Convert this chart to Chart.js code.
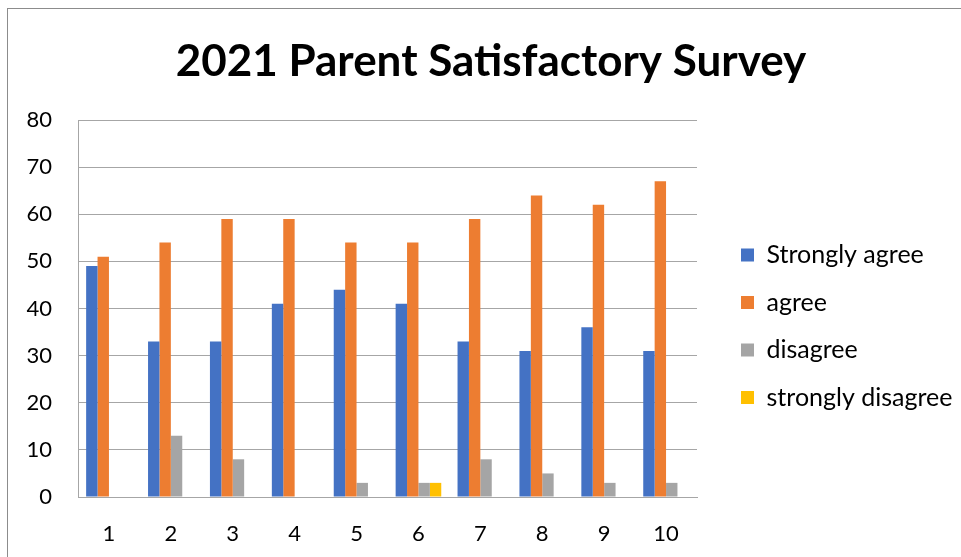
<!DOCTYPE html>
<html>
<head>
<meta charset="utf-8">
<title>2021 Parent Satisfactory Survey</title>
<script src="https://cdn.jsdelivr.net/npm/chart.js@4.4.1/dist/chart.umd.min.js"></script>
<style>
  html, body { margin: 0; padding: 0; background: #fff; overflow: hidden; }
  #frame {
    position: absolute; left: 7px; top: 8px; width: 1000px; height: 600px;
    border-left: 1px solid #8c8c8c; border-top: 1px solid #8c8c8c;
  }
  #surveyChart { position: absolute; left: 0; top: 0; }
</style>
</head>
<body>
<div id="frame"></div>
<canvas id="surveyChart" width="961" height="557"></canvas>
<script>
  // values
  const questions = ["1", "2", "3", "4", "5", "6", "7", "8", "9", "10"];
  const stronglyAgree = [49, 33, 33, 41, 44, 41, 33, 31, 36, 31];
  const agree = [51, 54, 59, 59, 54, 54, 59, 64, 62, 67];
  const disagree = [0, 13, 8, 0, 3, 3, 8, 5, 3, 3];
  const stronglyDisagree = [0, 0, 0, 0, 0, 3, 0, 0, 0, 0];
  const yTicks = [0, 10, 20, 30, 40, 50, 60, 70, 80];

  const gridColor = "#a6a6a6";
  const fontFamily = "Lato, 'Open Sans', sans-serif";

  const ctx = document.getElementById("surveyChart").getContext("2d");

  const surveyChart = new Chart(ctx, {
    type: "bar",
    data: {
      labels: questions,
      datasets: [
        { label: "Strongly agree", data: stronglyAgree, backgroundColor: "#4472C4" },
        { label: "agree", data: agree, backgroundColor: "#ED7D31" },
        { label: "disagree", data: disagree, backgroundColor: "#A5A5A5" },
        { label: "strongly disagree", data: stronglyDisagree, backgroundColor: "#FFC000" }
      ]
    },
    options: {
      responsive: false,
      animation: false,
      devicePixelRatio: 1,
      layout: { padding: { left: 22, right: 1, top: 0, bottom: 0 } },
      datasets: {
        bar: { categoryPercentage: 0.737, barPercentage: 1, borderWidth: 0 }
      },
      plugins: {
        title: {
          display: true,
          text: "2021 Parent Satisfactory Survey",
          color: "#000",
          font: { family: fontFamily, size: 44, weight: "bold" },
          padding: { top: 35.6, bottom: 31.6 }
        },
        legend: {
          position: "right",
          align: "center",
          maxWidth: 241.5,
          // empty legend title only pushes the items down
          title: { display: true, text: "", font: { size: 10 }, padding: { top: 0, bottom: 83.5 } },
          labels: {
            color: "#000",
            font: { family: fontFamily, size: 25 },
            boxWidth: 13,
            boxHeight: 13,
            padding: 22.5
          }
        },
        tooltip: { enabled: false }
      },
      scales: {
        x: {
          grid: { display: false, drawTicks: false },
          border: { display: true, color: gridColor, width: 1 },
          ticks: { color: "#000", font: { family: fontFamily, size: 22 }, padding: 24 },
          afterFit: (scale) => { scale.height = 60; }
        },
        y: {
          min: 0,
          max: 80,
          afterBuildTicks: (scale) => { scale.ticks = yTicks.map(v => ({ value: v })); },
          grid: { color: gridColor, lineWidth: 1, drawTicks: false },
          border: { display: true, color: gridColor, width: 1 },
          ticks: { color: "#000", font: { family: fontFamily, size: 22 }, padding: 26 },
          afterFit: (scale) => { scale.width = 56; }
        },
        // hidden right-hand axis that only keeps the gap between plot and legend
        gap: {
          position: "right",
          display: false,
          afterFit: (scale) => { scale.width = 21.5; }
        }
      }
    }
  });
</script>
</body>
</html>
